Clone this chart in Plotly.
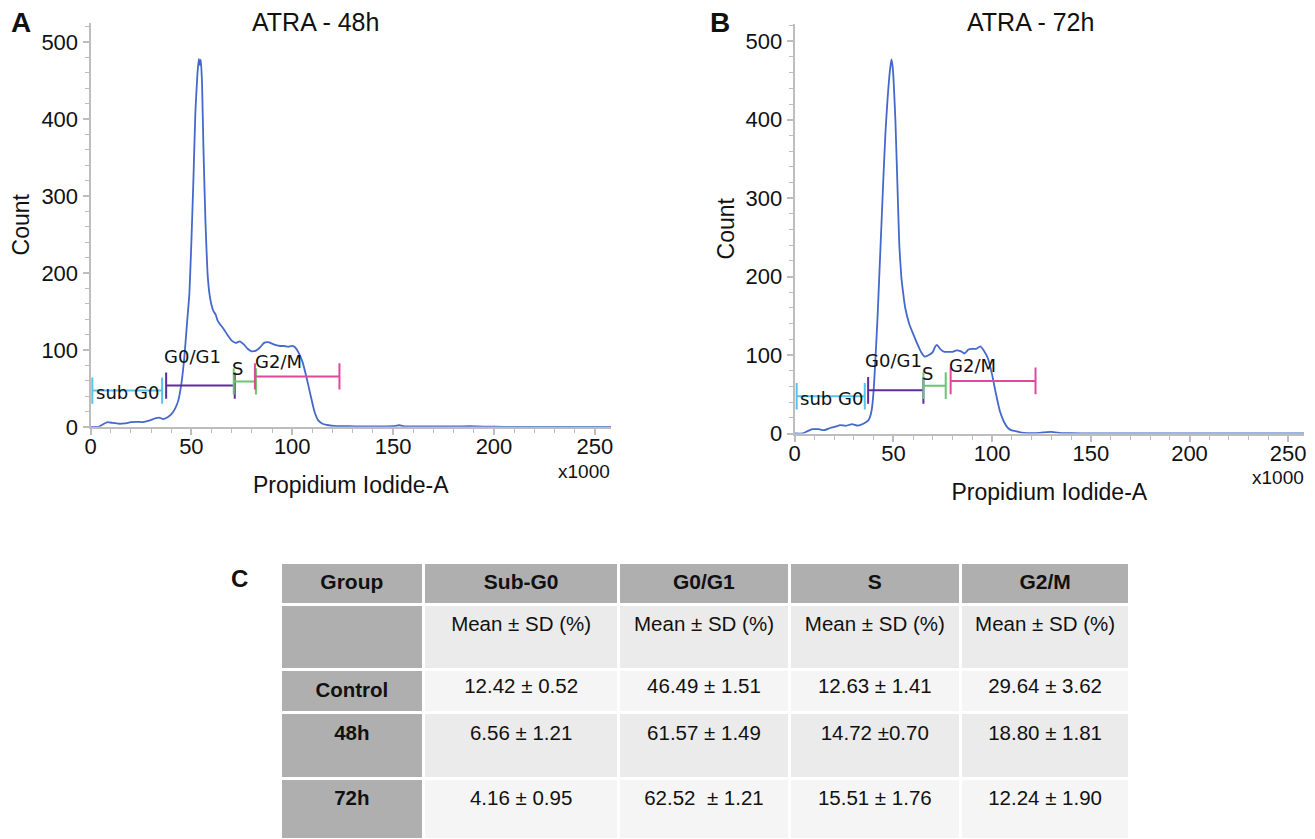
import plotly.graph_objects as go

W, H = 1315, 839

# ---------------- data ----------------
# Panel A: ATRA - 48h histogram (PI-A x1000, count)
a_x = [0, 4, 6, 8.5, 11, 14, 17, 20, 23, 26, 29, 32, 34, 36, 38, 40, 42, 43.5, 45, 46.5,
       48, 49, 50, 51, 52, 53, 53.7, 54.2, 54.7, 55.3, 56, 57, 58, 59, 60, 61, 62, 63, 64,
       66, 68, 70, 72, 74, 76, 78, 80, 82, 84, 86, 88, 90, 92, 94, 96, 98, 100, 101.5,
       103, 105, 107, 109, 111, 113, 115, 118, 122, 128, 135, 145, 150, 153, 156, 165,
       180, 188, 195, 205, 258]
a_y = [0, 0, 3, 6, 5, 4, 4.5, 6, 6.5, 6, 8, 11, 12, 10, 12, 16, 24, 34, 55, 90,
       140, 172, 240, 320, 410, 458, 478, 470, 477, 445, 360, 265, 200, 172, 158, 150, 146, 138, 134,
       127, 119, 112, 109, 111, 107, 101, 98, 99, 103, 109, 110, 108, 106, 105, 105, 104, 105, 103,
       97, 85, 65, 42, 20, 8, 4, 2, 1, 0.7, 0.5, 0.5, 0.8, 2, 0.5, 0.5,
       0.4, 0.8, 0.3, 0, 0]

# Panel B: ATRA - 72h histogram
b_x = [0, 4, 6.5, 9, 12, 15, 18, 21, 23, 26, 29, 32, 35, 37, 38, 39, 40, 41, 42, 43, 44,
       45, 46, 47, 48, 49, 49.5, 50, 51, 52, 53, 54, 55, 56, 58, 60, 62, 64, 66, 68, 70,
       71, 72, 74, 76, 78, 80, 82, 84, 86, 88, 90, 92, 94, 96, 98, 100, 102, 104, 106, 108,
       110, 112, 115, 118, 122, 126, 130, 132, 135, 140, 150, 258]
b_y = [0, 0, 3, 5.5, 5.5, 4.3, 7, 9, 10.7, 9.8, 12, 10, 12.8, 16, 20, 30, 55, 100, 150, 210, 270,
       330, 385, 425, 457, 477, 470, 455, 400, 320, 240, 200, 178, 160, 140, 127, 115, 104, 98, 100, 104,
       110, 113, 107, 104, 104, 104, 106, 105, 102, 107, 108, 108, 111, 105, 95, 75, 50, 28, 15, 7,
       4, 3, 1, 0.5, 0.5, 1.3, 2, 1.5, 0.5, 0.3, 0.2, 0]

# Gates (x1000 units): name, start, end, level (count)
gate_names = ["sub G0", "G0/G1", "S", "G2/M"]
gate_colors = ["#55c3ee", "#5d2c99", "#6cc56f", "#e0489c"]
a_gate_start = [0.9, 37.5, 71.0, 81.5]
a_gate_end = [35.5, 71.5, 82.0, 123.4]
a_gate_level = [47, 53.5, 59, 65.5]
b_gate_start = [1.0, 37.2, 65.2, 79.0]
b_gate_end = [35.5, 65.2, 76.5, 122.0]
b_gate_level = [47.5, 55, 61, 67]
gate_cap = 17  # half height of gate end caps (count units)

# Gate label anchor points (x1000, count)
a_label_x = [1.5, 50.7, 72.9, 93.4]
a_label_y = [44, 91, 76, 85]
b_label_x = [1.7, 50.0, 67.2, 90.2]
b_label_y = [45, 93, 77, 87]

x_ticks = [0, 50, 100, 150, 200, 250]
y_ticks = [0, 100, 200, 300, 400, 500]

# Table C
table_header = ["Group", "Sub-G0", "G0/G1", "S", "G2/M"]
table_groups = ["", "Control", "48h", "72h"]
sub_g0 = ["Mean ± SD (%)", "12.42 ± 0.52", "6.56 ± 1.21", "4.16 ± 0.95"]
g0_g1 = ["Mean ± SD (%)", "46.49 ± 1.51", "61.57 ± 1.49", "62.52  ± 1.21"]
s_phase = ["Mean ± SD (%)", "12.63 ± 1.41", "14.72 ±0.70", "15.51 ± 1.76"]
g2_m = ["Mean ± SD (%)", "29.64 ± 3.62", "18.80 ± 1.81", "12.24 ± 1.90"]
tall_rows = [True, False, True, True]

# ---------------- figure ----------------
FONT = "Liberation Sans, Arial, sans-serif"
LABEL_FONT = "DejaVu Sans, Verdana, sans-serif"


def px_x(p):
    return p / W


def px_y(p):
    return 1 - p / H


fig = go.Figure()

panels = [
    ("x", "y", a_x, a_y, a_gate_start, a_gate_end, a_gate_level, a_label_x, a_label_y),
    ("x2", "y2", b_x, b_y, b_gate_start, b_gate_end, b_gate_level, b_label_x, b_label_y),
]

for xa, ya, hx, hy, gs, ge, gl, lx, ly in panels:
    fig.add_trace(go.Scatter(x=hx, y=hy, mode="lines", xaxis=xa, yaxis=ya,
                             line=dict(color="#4468cc", width=1.8, shape="spline", smoothing=0.4),
                             hoverinfo="skip", showlegend=False))
    for i, name in enumerate(gate_names):
        s, e, lv = gs[i], ge[i], gl[i]
        fig.add_trace(go.Scatter(
            x=[s, s, None, s, e, None, e, e],
            y=[lv - gate_cap, lv + gate_cap, None, lv, lv, None, lv - gate_cap, lv + gate_cap],
            mode="lines", xaxis=xa, yaxis=ya, line=dict(color=gate_colors[i], width=2),
            hoverinfo="skip", showlegend=False))
        fig.add_annotation(x=lx[i], y=ly[i], xref=xa, yref=ya, text=name, showarrow=False,
                           xanchor="left" if i == 0 else "center", yanchor="middle",
                           font=dict(family=LABEL_FONT, size=18, color="#111"))

# Table
def cell(v, tall, bold=False):
    t = f"<b>{v}</b>" if (bold and v) else v
    return t + "<br> " if tall else t

cols = [
    [cell(v, t, True) for v, t in zip(table_groups, tall_rows)],
    [cell(v, t) for v, t in zip(sub_g0, tall_rows)],
    [cell(v, t) for v, t in zip(g0_g1, tall_rows)],
    [cell(v, t) for v, t in zip(s_phase, tall_rows)],
    [cell(v, t) for v, t in zip(g2_m, tall_rows)],
]
data_fill = ["#ebebeb", "#f5f5f5", "#ebebeb", "#f5f5f5"]
fig.add_trace(go.Table(
    domain=dict(x=[px_x(280), px_x(1130)], y=[0, px_y(562)]),
    columnwidth=[143, 194, 170, 170, 169],
    header=dict(values=[f"<b>{h}</b>" for h in table_header], fill_color="#afafaf",
                line=dict(color="white", width=3), align="center", height=42,
                font=dict(family=FONT, size=21, color="#111")),
    cells=dict(values=cols,
               fill_color=[["#afafaf"] * 4] + [data_fill] * 4,
               line=dict(color="white", width=3), align="center", height=43,
               font=dict(family=FONT, size=20.5, color="#111")),
))

axis_common = dict(
    showline=True, linecolor="#bdbdbd", linewidth=2, showgrid=False, zeroline=False,
    ticks="outside", ticklen=6, tickwidth=1.5, tickcolor="#bdbdbd", automargin=False,
    tickfont=dict(family=FONT, size=22, color="#111"),
    title_font=dict(family=FONT, size=23, color="#111"),
)
minor_x = dict(dtick=10, ticklen=4, ticks="outside", tickcolor="#bdbdbd", tickwidth=1.2)
minor_y = dict(dtick=20, ticklen=4, ticks="outside", tickcolor="#bdbdbd", tickwidth=1.2)

fig.update_layout(
    width=W, height=H, margin=dict(l=0, r=0, t=0, b=0, autoexpand=False),
    paper_bgcolor="white", plot_bgcolor="white", showlegend=False,
    xaxis=dict(domain=[px_x(90.5), px_x(611)], range=[0, 258], tickvals=x_ticks, minor=minor_x,
               ticklabelstandoff=-7,
               title=dict(text="Propidium Iodide-A", standoff=19), anchor="y", **axis_common),
    yaxis=dict(domain=[px_y(426.8), px_y(22.7)], range=[0, 525], tickvals=y_ticks, minor=minor_y,
               title=dict(text="Count", standoff=5), anchor="x", **axis_common),
    xaxis2=dict(domain=[px_x(794.7), px_x(1304)], range=[0, 258], tickvals=x_ticks, minor=minor_x,
                ticklabelstandoff=-7,
                title=dict(text="Propidium Iodide-A", standoff=19), anchor="y2", **axis_common),
    yaxis2=dict(domain=[px_y(433.5), px_y(24)], range=[0, 522], tickvals=y_ticks, minor=minor_y,
                title=dict(text="Count", standoff=5), anchor="x2", **axis_common),
)

# Titles, x1000 and panel letters
texts = [
    ("ATRA - 48h", 315, 22, 25, False, "center"),
    ("ATRA - 72h", 1030, 22, 25, False, "center"),
    ("x1000", 612, 471, 19, False, "right"),
    ("x1000", 1306, 477, 19, False, "right"),
    ("A", 21, 23, 28, True, "center"),
    ("B", 720, 23, 28, True, "center"),
    ("C", 239, 578, 24, True, "center"),
]
for t, x, y, size, bold, xa in texts:
    fig.add_annotation(x=px_x(x), y=px_y(y), xref="paper", yref="paper", showarrow=False,
                       text=f"<b>{t}</b>" if bold else t, xanchor=xa, yanchor="middle",
                       font=dict(family=FONT, size=size, color="#111"))

fig.write_html("out.html", config={"displayModeBar": False},
               post_script="document.body.style.margin='0';document.body.style.overflow='hidden';")
